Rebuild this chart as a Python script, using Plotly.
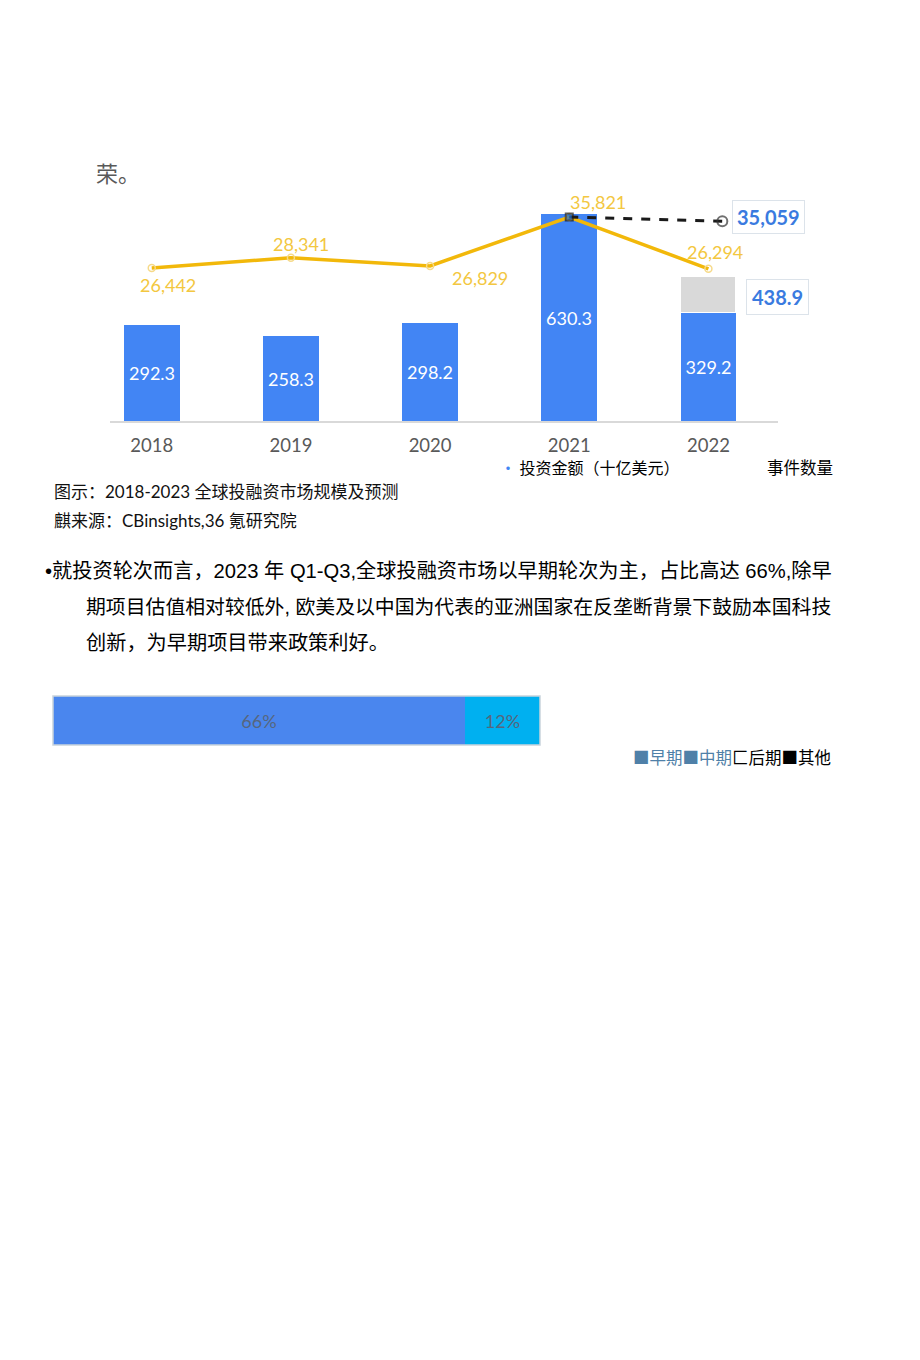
import plotly.graph_objects as go

W, H = 920, 1360

# ---------------- data ----------------
years = ["2018", "2019", "2020", "2021", "2022"]
invest_amount = [292.3, 258.3, 298.2, 630.3, 329.2]      # 投资金额（十亿美元）
invest_2022_forecast = 438.9                              # 灰色预测部分顶端
event_count = [26442, 28341, 26829, 35821, 26294]         # 事件数量
forecast_events = [35821, 35059]                          # 2021 -> 预测
stage_names = ["早期", "中期"]
stage_shares = [66, 12]                                   # %

# ---------------- helpers ----------------
def px(x):
    return x / W

def py(y):
    return 1 - y / H

BLUE = "#4285F4"
GRAY = "#D9D9D9"
GOLD = "#F2B80A"
GOLD_TXT = "#F3C741"
NUMF = "Lato, Noto Sans CJK SC"
CJK = "Liberation Sans, Noto Sans CJK SC"

x_idx = list(range(len(years)))
extra = [None] * (len(years) - 1) + [round(invest_2022_forecast - invest_amount[-1], 1)]

fig = go.Figure()

# bars
fig.add_trace(go.Bar(
    x=x_idx, y=invest_amount, width=0.4, marker=dict(color=BLUE, line=dict(width=0)),
    text=[f"{v:.1f}" for v in invest_amount], textposition="inside",
    insidetextanchor="middle", textangle=0, constraintext="none",
    textfont=dict(family=NUMF, size=18, color="white"),
    xaxis="x", yaxis="y", showlegend=False, hoverinfo="skip"))
fig.add_trace(go.Bar(
    x=x_idx, y=extra, width=0.4, marker=dict(color=GRAY, line=dict(color="white", width=1.5)),
    xaxis="x", yaxis="y", showlegend=False, hoverinfo="skip"))

# event count line
fig.add_trace(go.Scatter(
    x=x_idx, y=event_count, mode="lines+markers",
    line=dict(color=GOLD, width=3.5),
    marker=dict(symbol="circle-open", size=7, color="#F6DA8A", line=dict(width=1.5)),
    xaxis="x", yaxis="y3", showlegend=False, hoverinfo="skip"))

# forecast black dashed line
fig.add_trace(go.Scatter(
    x=[3, 4.1], y=forecast_events, mode="lines+markers",
    line=dict(color="#1a1a1a", width=3, dash="dash"),
    marker=dict(symbol=["square", "circle-open"], size=[7, 10],
                color=["#1f6fd0", "#333333"], line=dict(width=2)),
    xaxis="x", yaxis="y3", showlegend=False, hoverinfo="skip"))

# bottom stacked horizontal bar
stage_colors = ["#4A86EE", "#00B0F0"]
for name, val, col in zip(stage_names, stage_shares, stage_colors):
    fig.add_trace(go.Bar(
        x=[val], y=[0], orientation="h", width=1, name=name,
        marker=dict(color=col, line=dict(width=0)),
        text=[f"{val}%"], textposition="inside", insidetextanchor="middle",
        textfont=dict(family=NUMF, size=18, color="#56667E"),
        xaxis="x2", yaxis="y2", showlegend=False, hoverinfo="skip"))

ann = []

# line labels
offsets = [(16, -17), (10, 14), (50, -12), (29, 15), (7, 17)]
for i, (v, (dx, dy)) in enumerate(zip(event_count, offsets)):
    ann.append(dict(x=i, y=v, xref="x", yref="y3", text=f"{v:,}", showarrow=False,
                    xshift=dx, yshift=dy, font=dict(family=NUMF, size=18, color=GOLD_TXT)))

# boxed values
ann.append(dict(x=px(768), y=py(217), xref="paper", yref="paper",
                xanchor="center", yanchor="middle",
                text=f"{forecast_events[-1]:,}", showarrow=False,
                font=dict(family=NUMF, size=20, color="#3A7BE0", weight="bold"),
                bgcolor="white", bordercolor="#DCE3EA", borderwidth=1, borderpad=4))
ann.append(dict(x=px(777), y=py(297), xref="paper", yref="paper",
                xanchor="center", yanchor="middle",
                text=f"{invest_2022_forecast}", showarrow=False,
                font=dict(family=NUMF, size=20, color="#3A7BE0", weight="bold"),
                bgcolor="white", bordercolor="#DCE3EA", borderwidth=1, borderpad=5))

def txt(x, y, s, size, color="#000000", family=CJK, anchor="left"):
    ann.append(dict(x=px(x), y=py(y), xref="paper", yref="paper", text=s,
                    showarrow=False, xanchor=anchor, yanchor="middle",
                    font=dict(family=family, size=size, color=color)))

txt(94, 172, "荣。", 22, "#595959", "Noto Sans CJK SC")
txt(498, 467, f"<span style='color:{BLUE}'>·</span> 投资金额（十亿美元）", 16, "#000000", "Noto Sans CJK SC")
txt(765, 467, "事件数量", 16.5, "#000000", "Noto Sans CJK SC")
txt(52, 491, "图示：2018-2023 全球投融资市场规模及预测", 17, "#111111", NUMF)
txt(52, 520, "麒来源：CBinsights,36 氪研究院", 17, "#111111", NUMF)
txt(43, 571, "•就投资轮次而言，2023 年 Q1-Q3,全球投融资市场以早期轮次为主，占比高达 66%,除早", 20.2)
txt(84, 607, "期项目估值相对较低外, 欧美及以中国为代表的亚洲国家在反垄断背景下鼓励本国科技", 19.85)
txt(84, 643, "创新，为早期项目带来政策利好。", 20.2)
txt(631, 757, "<span style='color:#4F80A8'>■早期■中期</span>匚后期■其他", 16.5, "#000000", "Noto Sans CJK SC")

ann_shapes = [dict(type="rect", xref="paper", yref="paper",
                   x0=px(53), x1=px(540), y0=py(745), y1=py(696),
                   line=dict(color="#C9D3DC", width=1.5), fillcolor="rgba(0,0,0,0)")]

top_px, base_px = 190, 421
y_scale = 0.3284      # px per unit (bars)
l_scale = 0.005438    # px per unit (line)
l_zero = 411.8

fig.update_layout(
    width=W, height=H, margin=dict(l=0, r=0, t=0, b=0),
    paper_bgcolor="white", plot_bgcolor="rgba(0,0,0,0)",
    barmode="stack", bargap=0,
    xaxis=dict(domain=[px(110), px(778)], range=[-0.3, 4.5], tickvals=x_idx, ticktext=years,
               showline=True, linecolor="#D9D9D9", linewidth=2, showgrid=False, zeroline=False,
               ticks="outside", ticklen=0, ticklabelstandoff=7,
               tickfont=dict(family=NUMF, size=18.5, color="#595959"), anchor="y", fixedrange=True),
    yaxis=dict(domain=[py(base_px), py(top_px)], range=[0, (base_px - top_px) / y_scale],
               visible=False, anchor="x"),
    yaxis3=dict(overlaying="y", anchor="x", visible=False,
                range=[(l_zero - base_px) / l_scale, (l_zero - top_px) / l_scale]),
    xaxis2=dict(domain=[px(53), px(540)], range=[0, sum(stage_shares)], visible=False, anchor="y2"),
    yaxis2=dict(domain=[py(745), py(696)], range=[-0.5, 0.5], visible=False, anchor="x2"),
    annotations=ann, shapes=ann_shapes,
)

fig.write_html("out.html")
